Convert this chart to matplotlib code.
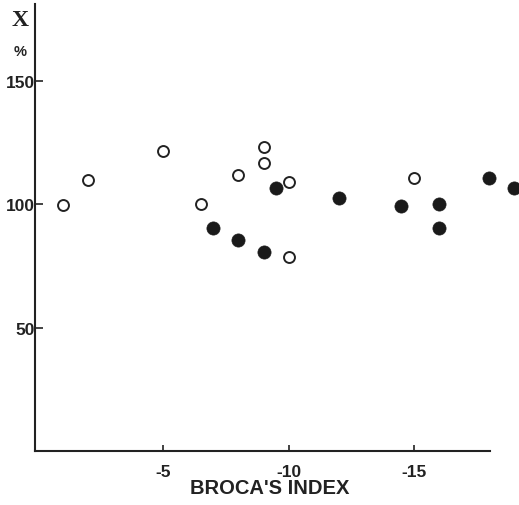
import matplotlib.pyplot as plt

# open circles
open_x = [-1, -2, -5, -6.5, -8, -9, -9, -10, -10, -15]
open_y = [99.5, 109.7, 121.7, 100, 111.7, 123.2, 116.6, 109, 78.7, 110.4]

# filled circles
fill_x = [-7, -8, -9, -9.5, -12, -14.5, -16, -16, -18, -19]
fill_y = [90.2, 85.7, 80.6, 106.5, 102.7, 99.1, 100.2, 90.3, 110.7, 106.7]

x_ticks = [-5, -10, -15]
y_ticks = [50, 100, 150]

SANS = ["Liberation Sans", "DejaVu Sans"]

fig = plt.figure(figsize=(5.19, 5.06), dpi=100)
ax = fig.add_axes([0.0684, 0.1061, 0.9316, 0.884])

ax.scatter(open_x, open_y, s=62, facecolors="white", edgecolors="#222222",
           linewidths=1.4, clip_on=False, zorder=3)
ax.scatter(fill_x, fill_y, s=90, facecolors="#1a1a1a", edgecolors="#1a1a1a",
           linewidths=0.5, clip_on=False, zorder=3)

ax.set_xlim(0.105, -19.2)
ax.set_ylim(0, 181)

for side in ("top", "right"):
    ax.spines[side].set_visible(False)
for side in ("left", "bottom"):
    ax.spines[side].set_linewidth(1.5)
    ax.spines[side].set_color("#222222")
ax.spines["bottom"].set_bounds(-18.04, 0.105)

ax.set_xticks(x_ticks)
ax.set_xticklabels([str(v) for v in x_ticks])
ax.set_yticks(y_ticks)
ax.set_yticklabels([str(v) for v in y_ticks])
ax.tick_params(axis="x", direction="in", length=4, width=1.2, pad=9,
               colors="#222222")
ax.tick_params(axis="y", direction="in", length=6, width=1.2, pad=0.5,
               colors="#222222")
for lab in ax.get_xticklabels() + ax.get_yticklabels():
    lab.set_family(SANS)
    lab.set_fontweight("bold")
    lab.set_fontsize(12.5)
    lab.set_color("#222222")

fig.text(270 / 519, 1 - 489 / 506, "BROCA'S INDEX", ha="center", va="center",
         fontsize=14.5, fontweight="bold", color="#222222", family=SANS)
fig.text(20 / 519, 1 - 20 / 506, "X", ha="center", va="center",
         fontsize=17, fontweight="heavy", color="#222222",
         family=["Liberation Serif", "DejaVu Serif"])
fig.text(20 / 519, 1 - 52 / 506, "%", ha="center", va="center",
         fontsize=10.5, fontweight="bold", color="#222222", family=SANS)

fig.savefig("out.png", dpi=100)
